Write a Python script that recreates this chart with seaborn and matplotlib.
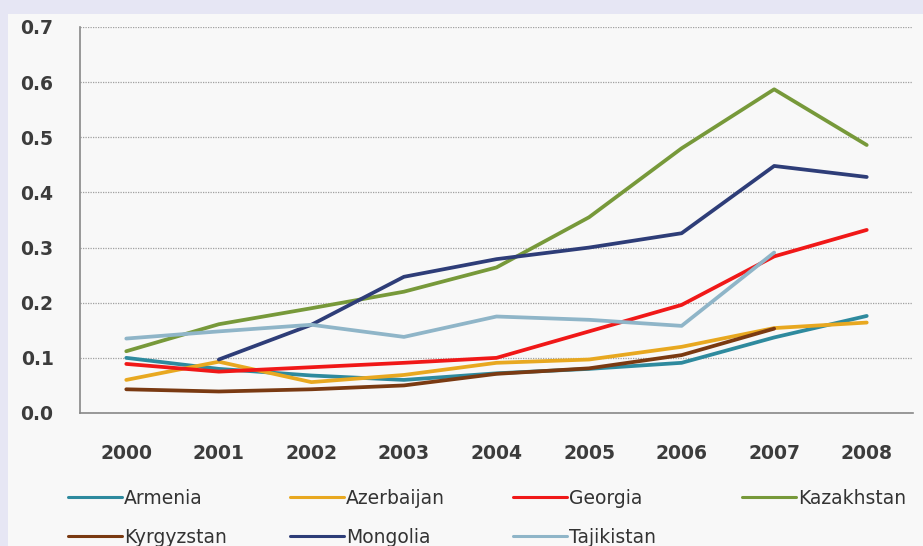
import numpy as np
import pandas as pd
import matplotlib
matplotlib.use("Agg")
import matplotlib.pyplot as plt
import seaborn as sns
from matplotlib.patches import Rectangle

years = [2000, 2001, 2002, 2003, 2004, 2005, 2006, 2007, 2008]
armenia = [0.100, 0.080, 0.068, 0.060, 0.072, 0.080, 0.091, 0.137, 0.176]
azerbaijan = [0.060, 0.093, 0.056, 0.069, 0.091, 0.097, 0.120, 0.154, 0.164]
georgia = [0.089, 0.075, 0.083, 0.091, 0.100, 0.148, 0.196, 0.284, 0.332]
kazakhstan = [0.112, 0.161, 0.190, 0.220, 0.264, 0.355, 0.480, 0.587, 0.486]
kyrgyzstan = [0.043, 0.039, 0.043, 0.050, 0.071, 0.081, 0.105, 0.153, np.nan]
mongolia = [np.nan, 0.097, 0.160, 0.247, 0.279, 0.300, 0.326, 0.448, 0.428]
tajikistan = [0.135, 0.148, 0.160, 0.138, 0.175, 0.169, 0.158, 0.291, np.nan]

countries = ["Armenia", "Azerbaijan", "Georgia", "Kazakhstan",
             "Kyrgyzstan", "Mongolia", "Tajikistan"]
colors = ["#2E8A9E", "#E8A820", "#F01818", "#77993A",
          "#7A3A12", "#2E3D78", "#8FB5C8"]


def main():
    series = [armenia, azerbaijan, georgia, kazakhstan,
              kyrgyzstan, mongolia, tajikistan]
    df = pd.DataFrame({"year": [str(y) for y in years] * len(countries),
                       "country": np.repeat(countries, len(years)),
                       "value": np.concatenate(series)})

    sns.set_style("white")
    plt.rcParams["font.family"] = ["DejaVu Sans"]

    fig = plt.figure(figsize=(9.23, 5.46), dpi=100)
    fig.patch.set_facecolor("#E6E6F4")
    # lighter chart area inside the lavender border
    fig.patches.append(Rectangle((8 / 923, 0), 1, 1 - 14 / 546,
                                 transform=fig.transFigure,
                                 facecolor="#F8F8F8", edgecolor="none",
                                 zorder=-10))
    ax = fig.add_axes([80 / 923, 1 - 413 / 546, 833 / 923, 386 / 546])
    ax.set_facecolor("#F8F8F8")

    sns.lineplot(data=df, x="year", y="value", hue="country",
                 palette=colors, linewidth=2.7, ax=ax, sort=False)

    ax.set_xlim(-0.5, len(years) - 0.5)
    ax.set_ylim(0, 0.7)
    ax.set_yticks(np.arange(0, 0.71, 0.1))
    ax.set_yticklabels([f"{v:.1f}" for v in np.arange(0, 0.71, 0.1)])
    ax.set_xticks(range(len(years)))
    ax.set_xticks(np.arange(-0.5, len(years), 1), minor=True)
    ax.tick_params(axis="x", which="major", length=0, pad=22)
    ax.tick_params(axis="x", which="minor", length=6, color="#888888",
                   width=1.2, direction="out")
    ax.tick_params(axis="y", length=6, color="#888888", width=1.2,
                   direction="out", pad=13)
    for lab in ax.get_xticklabels() + ax.get_yticklabels():
        lab.set_fontsize(13.5)
        lab.set_fontweight("bold")
        lab.set_color("#3C3C3C")

    ax.grid(axis="y", color="#A0A0A0", linestyle=(0, (1, 1)), linewidth=0.9)
    ax.set_axisbelow(True)
    for side in ["top", "right"]:
        ax.spines[side].set_visible(False)
    for side in ["left", "bottom"]:
        ax.spines[side].set_color("#888888")
        ax.spines[side].set_linewidth(1.2)
    ax.set_xlabel("")
    ax.set_ylabel("")

    handles, labels = ax.get_legend_handles_labels()
    ax.get_legend().remove()
    lookup = dict(zip(labels, handles))
    # one small legend per column, so the columns sit where Excel put them
    columns = [["Armenia", "Kyrgyzstan"], ["Azerbaijan", "Mongolia"],
               ["Georgia", "Tajikistan"], ["Kazakhstan"]]
    col_x = [68, 290, 513, 742]
    for names, x in zip(columns, col_x):
        leg = fig.legend([lookup[n] for n in names], names, frameon=False,
                         loc="upper left",
                         bbox_to_anchor=(x / 923, 1 - 489 / 546),
                         fontsize=13.5, handlelength=2.9, handletextpad=0.1,
                         labelspacing=1.05, borderaxespad=0, borderpad=0)
        for line in leg.get_lines():
            line.set_linewidth(2.2)
        for t in leg.get_texts():
            t.set_color("#333333")

    fig.savefig("out.png", dpi=100, facecolor=fig.get_facecolor())


if __name__ == "__main__":
    main()
